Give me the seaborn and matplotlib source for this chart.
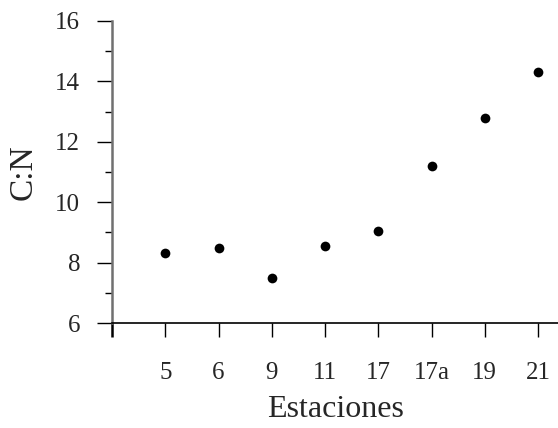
import matplotlib
matplotlib.use("Agg")
import matplotlib.pyplot as plt
import seaborn as sns
import pandas as pd
import numpy as np
from matplotlib.ticker import MultipleLocator

estaciones = ["5", "6", "9", "11", "17", "17a", "19", "21"]
cn = [8.32, 8.48, 7.48, 8.54, 9.04, 11.2, 12.8, 14.32]

df = pd.DataFrame({"Estaciones": estaciones, "C:N": cn})

sns.set_style("ticks")
plt.rcParams["font.family"] = ["Liberation Serif", "DejaVu Serif"]

fig = plt.figure(figsize=(5.58, 4.28), dpi=100)
ax = fig.add_axes([112 / 558, 1 - 323 / 428, 1 - 112 / 558, (323 - 21) / 428])

sns.stripplot(data=df, x="Estaciones", y="C:N", order=estaciones, jitter=False,
              color="black", size=7, ax=ax, zorder=3)

ax.set_xlim(-1, 7.375)
ax.set_ylim(6, 16)
ax.set_xticks(range(-1, len(estaciones)))
ax.set_xticklabels([""] + estaciones)
ax.yaxis.set_major_locator(MultipleLocator(2))
ax.yaxis.set_minor_locator(MultipleLocator(1))

for s in ["top", "right"]:
    ax.spines[s].set_visible(False)
ax.spines["left"].set_color("#707070")
ax.spines["left"].set_linewidth(1.8)
ax.spines["bottom"].set_color("black")
ax.spines["bottom"].set_linewidth(1.2)
ax.spines["left"].set_bounds(6, 16)

ax.tick_params(axis="x", which="major", length=10, width=1.0, color="black",
               pad=18, labelsize=18, direction="out")
ax.tick_params(axis="y", which="major", length=11, width=1.0, color="black",
               pad=12, labelsize=18, direction="out")
ax.tick_params(axis="y", which="minor", length=5, width=1.0, color="black",
               direction="out")
ax.get_xticklines()[0].set_color("#707070")
ax.get_xticklines()[0].set_markeredgewidth(1.8)

ax.set_xlabel("Estaciones", fontsize=23, labelpad=8)
ax.set_ylabel("C:N", fontsize=24, labelpad=12)

fig.savefig("out.png", dpi=100)
